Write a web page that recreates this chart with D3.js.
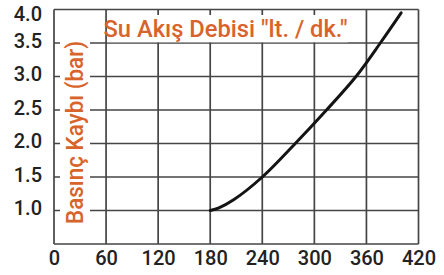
<!DOCTYPE html>
<html>
<head>
<meta charset="utf-8">
<script src="https://cdn.jsdelivr.net/npm/d3@7"></script>
<style>
  body { margin: 0; background: #fff; }
  svg { display: block; }
</style>
</head>
<body>
<script>
// chart size
const width = 444;
const height = 275;

// curve: flow (lt/dk) vs pressure loss (bar)
const flow = [180, 190, 207, 240, 278, 314, 348, 376, 400];
const pressure = [1.0, 1.04, 1.16, 1.5, 2.0, 2.5, 3.0, 3.5, 3.95];

const xTicks = [0, 60, 120, 180, 240, 300, 360, 420];
const yTicks = [0.5, 1.0, 1.5, 2.0, 2.5, 3.0, 3.5, 4.0];
const yLabels = ['1.0', '1.5', '2.0', '2.5', '3.0', '3.5', '4.0'];

const title = 'Su Akış Debisi "lt. / dk."';
const yTitle = 'Basınç Kaybı (bar)';

const orange = '#d8632b';
const gridColor = '#454545';

let svg = d3.select('body')
    .append('svg')
    .attr('width', width)
    .attr('height', height);

let plot = {left: 54, right: 418.5, top: 9.5, bottom: 244};

let x = d3.scaleLinear()
    .domain([0, 420])
    .range([plot.left, plot.right]);
let y = d3.scaleLinear()
    .domain([0.5, 4.0])
    .range([plot.bottom, plot.top]);

// grid
let grid = svg.append('g').attr('stroke', gridColor).attr('stroke-width', 1.7);
grid.selectAll('.v')
    .data(xTicks)
    .join('line')
    .attr('x1', d => x(d)).attr('x2', d => x(d))
    .attr('y1', plot.top).attr('y2', plot.bottom);
grid.selectAll('.h')
    .data(yTicks)
    .join('line')
    .attr('x1', plot.left).attr('x2', plot.right)
    .attr('y1', d => y(d)).attr('y2', d => y(d));

// white boxes behind the titles
svg.append('rect')
    .attr('x', 107).attr('y', 15)
    .attr('width', 241).attr('height', 27.3)
    .attr('fill', '#fff');
svg.append('rect')
    .attr('x', 60).attr('y', 39)
    .attr('width', 30).attr('height', 188)
    .attr('fill', '#fff');

// y tick labels
let yAxis = d3.axisLeft(y).tickValues(yLabels.map(Number)).tickSize(0).tickPadding(12)
    .tickFormat(d3.format('.1f'));
svg.append('g')
    .attr('transform', `translate(${plot.left},0)`)
    .call(yAxis)
    .call(g => g.select('.domain').remove())
    .selectAll('text')
    .attr('font-family', 'Roboto, Liberation Sans, sans-serif')
    .attr('font-weight', 500)
    .attr('font-size', 20)
    .attr('fill', '#222')
    .attr('dy', d => d === 4 ? '0.55em' : '0.2em');

// x tick labels
let xAxis = d3.axisBottom(x).tickValues(xTicks).tickSize(0).tickFormat(d3.format('d'));
svg.append('g')
    .attr('transform', `translate(0,${plot.bottom})`)
    .call(xAxis)
    .call(g => g.select('.domain').remove())
    .selectAll('text')
    .attr('font-family', 'Roboto, Liberation Sans, sans-serif')
    .attr('font-weight', 500)
    .attr('font-size', 20)
    .attr('fill', '#222')
    .attr('y', 21)
    .attr('dy', 0);

// curve
let line = d3.line()
    .x((d, i) => x(flow[i]))
    .y(d => y(d))
    .curve(d3.curveCatmullRom.alpha(0.5));
svg.append('path')
    .datum(pressure)
    .attr('d', line)
    .attr('fill', 'none')
    .attr('stroke', '#141414')
    .attr('stroke-width', 3)
    .attr('stroke-linecap', 'round');

// titles
svg.append('text')
    .attr('x', 103.5).attr('y', 36.7)
    .attr('font-family', 'Roboto, Liberation Sans, sans-serif')
    .attr('font-weight', 500)
    .attr('font-size', 24)
    .attr('fill', orange)
    .attr('textLength', 244)
    .attr('lengthAdjust', 'spacingAndGlyphs')
    .text(title);

svg.append('text')
    .attr('transform', 'translate(83,224) rotate(-90)')
    .attr('font-family', 'Roboto, Liberation Sans, sans-serif')
    .attr('font-weight', 500)
    .attr('font-size', 24)
    .attr('fill', orange)
    .attr('textLength', 183)
    .attr('lengthAdjust', 'spacingAndGlyphs')
    .text(yTitle);
</script>
</body>
</html>
